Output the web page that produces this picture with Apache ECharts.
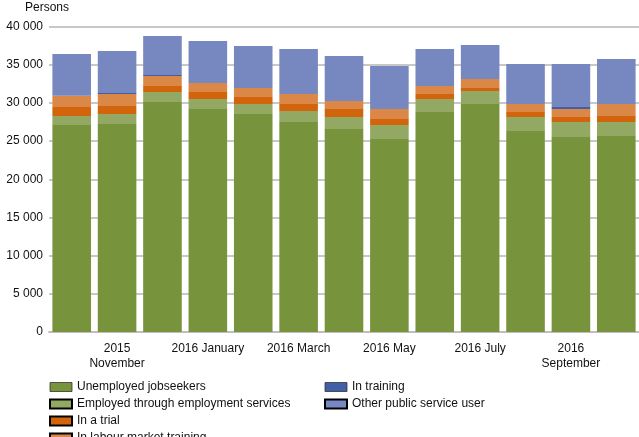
<!DOCTYPE html>
<html><head><meta charset="utf-8">
<script src="https://cdn.jsdelivr.net/npm/echarts@6/dist/echarts.min.js"></script>
<style>html,body{margin:0;padding:0;background:#fff}#c{width:639px;height:437px}</style>
</head><body><div id="c"></div>
<script>
const categories = ["2015 October","2015 November","2015 December","2016 January","2016 February","2016 March","2016 April","2016 May","2016 June","2016 July","2016 August","2016 September","2016 October"];
const tickLabels = ["","2015\nNovember","","2016 January","","2016 March","","2016 May","","2016 July","","2016\nSeptember",""];
const unemployed = [27100,27230,30110,29190,28540,27490,26570,25260,28800,29850,26310,25530,25660];
const employedServices = [1170,1310,1310,1310,1310,1450,1570,1840,1700,1700,1830,1960,1830];
const inTrial = [1180,1040,780,920,910,910,1050,780,650,390,660,650,780];
const labourTraining = [1480,1570,1310,1170,1180,1300,1050,1310,1050,1180,1050,1050,1580];
const inTraining = [0,140,130,0,0,0,0,0,0,0,0,260,0];
const otherUser = [5460,5490,5110,5500,5500,5890,5890,5630,4840,4450,5230,5630,5890];
const yTicks = [0,5000,10000,15000,20000,25000,30000,35000,40000];

const names = ["Unemployed jobseekers","Employed through employment services","In a trial","In labour market training","In training","Other public service user"];
const colors = ["#77933C","#93A862","#D2640C","#DA8747","#3F5FA8","#7787C0"];
const dataSets = [unemployed, employedServices, inTrial, labourTraining, inTraining, otherUser];

const chart = echarts.init(document.getElementById('c'), null, {renderer:'canvas'});
const font = "'Liberation Sans', Arial, sans-serif";
const legendText = {fontFamily: font, fontSize: 12, color: '#111', lineHeight: 12};
function legendItem(i, thin){
  return {name: names[i], itemStyle: thin ? {borderColor:'#333', borderWidth:0.8} : {borderColor:'#000', borderWidth:2}};
}
chart.setOption({
  animation:false,
  color: colors,
  grid:{left:49, right:-4, top:26.5, bottom:105, containLabel:false},
  graphic:[{type:'text', left:25, top:2, style:{text:'Persons', font:"12px 'Liberation Sans', Arial, sans-serif", fill:'#111'}}],
  legend:[
    {orient:'vertical', left:49, top:381, height:90, padding:0, itemWidth:22, itemHeight:9, itemGap:5, icon:'rect', textStyle:legendText,
     data:[legendItem(0,true), legendItem(1), legendItem(2), legendItem(3)]},
    {orient:'vertical', left:324, top:381, height:90, padding:0, itemWidth:22, itemHeight:9, itemGap:5, icon:'rect', textStyle:legendText,
     data:[legendItem(4,true), legendItem(5)]}
  ],
  xAxis:{type:'category', data:categories,
    axisLine:{lineStyle:{color:'#BFBFBF', width:2}}, axisTick:{show:false},
    axisLabel:{interval:0, margin:9, fontFamily:font, fontSize:12, color:'#111', lineHeight:15,
      formatter:(v,i)=>tickLabels[i]}},
  yAxis:{type:'value', min:0, max:40000, interval:5000,
    splitLine:{lineStyle:{color:'#C8C8C8', width:2}}, axisLine:{show:false}, axisTick:{show:false},
    axisLabel:{margin:6, fontFamily:font, fontSize:12, color:'#111',
      formatter:v=>String(yTicks[yTicks.indexOf(v)]).replace(/\B(?=(\d{3})+(?!\d))/g,' ')}},
  series: dataSets.map((d,i)=>({name:names[i], type:'bar', stack:'s', data:d,
    barCategoryGap:'15%', itemStyle:{color:colors[i]}}))
});
</script></body></html>
